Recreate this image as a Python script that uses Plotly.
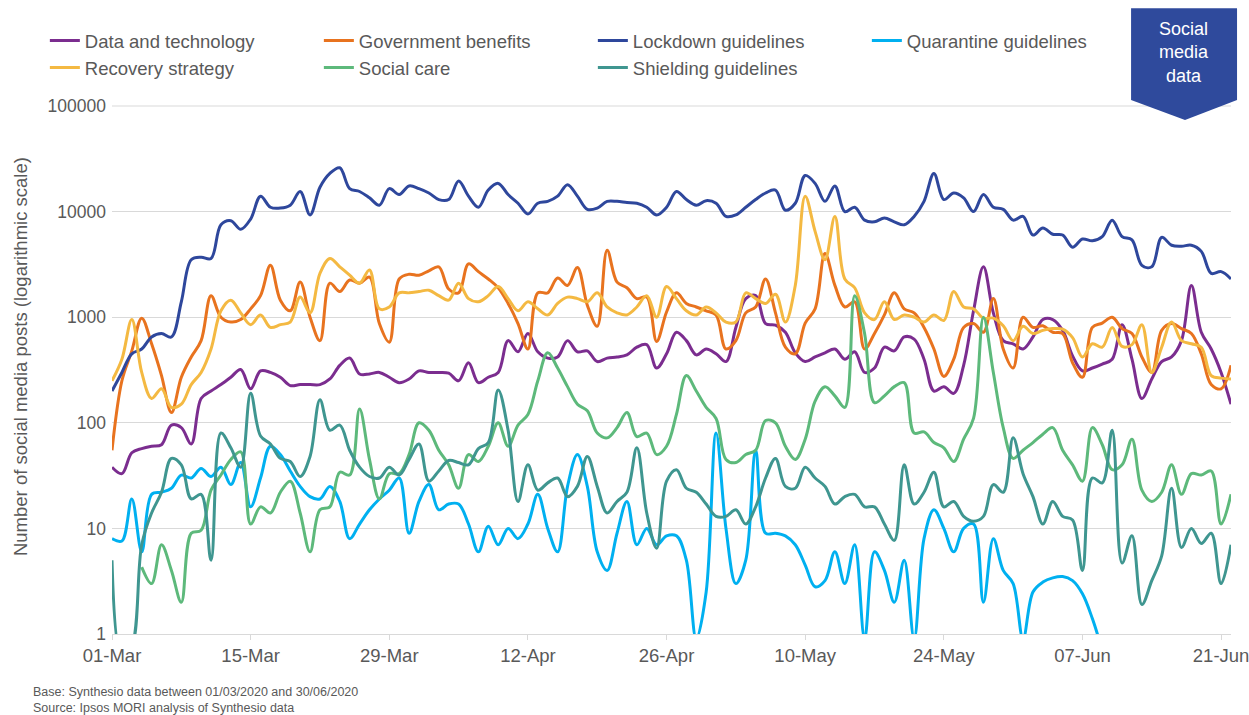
import plotly.graph_objects as go
import pandas as pd

dates = pd.date_range("2020-03-01", "2020-06-22", freq="D")

data_tech = [38, 33, 52, 57, 60, 62, 95, 90, 63, 170, 200, 230, 270, 320, 210, 310, 300, 270, 225, 230,
             230, 230, 260, 350, 410, 290, 290, 300, 270, 240, 260, 310, 300, 300, 295, 250, 370, 240, 270, 300,
             600, 470, 700, 470, 410, 420, 600, 470, 480, 380, 410, 420, 440, 520, 550, 330, 450, 720, 600, 440,
             500, 450, 380, 800, 1500, 1600, 870, 840, 720, 460, 380, 420, 460, 500, 400, 470, 300, 330, 520, 480,
             650, 620, 400, 200, 220, 190, 350, 1150, 3000, 1100, 600, 560, 500, 650, 950, 950, 750, 430, 310, 330,
             360, 400, 850, 400, 170, 260, 380, 420, 600, 2000, 720, 500, 300, 150]

gov_benefits = [55, 250, 480, 980, 560, 280, 125, 270, 420, 600, 1600, 1000, 900, 950, 1200, 1600, 3100, 1450, 1150, 2150,
                1000, 600, 2100, 1750, 2250, 2100, 2400, 870, 580, 2300, 2550, 2500, 2750, 3000, 1850, 1700, 3200, 2700, 2300, 1900,
                1350, 870, 500, 1700, 1700, 2350, 2000, 2950, 1300, 820, 4300, 2150, 1900, 1500, 1550, 590, 1120, 1700, 1350, 1250,
                1150, 1050, 500, 600, 1100, 1250, 2300, 1100, 520, 450, 880, 1200, 4000, 2000, 1250, 1400, 500, 700, 1050, 1700,
                1200, 1100, 800, 500, 275, 400, 800, 870, 720, 1500, 500, 330, 1000, 800, 830, 720, 700, 370, 270, 800,
                880, 1000, 780, 700, 420, 300, 750, 870, 780, 700, 450, 230, 210, 350]

lockdown = [200, 300, 450, 500, 650, 700, 650, 1400, 3500, 3700, 3600, 7500, 8200, 6800, 8500, 14000, 11000, 10800, 11500, 15500,
            9300, 17000, 23000, 26000, 16500, 15500, 13500, 11500, 16500, 14500, 17500, 16500, 15000, 13000, 13000, 19500, 14000, 11000, 16000, 18500,
            14500, 12000, 9500, 12000, 12500, 14000, 18000, 14000, 10500, 10800, 12500, 12500, 12200, 12000, 11000, 9300, 11000, 15500, 13000, 11500,
            12700, 12000, 9000, 9300, 11000, 13000, 15000, 16000, 10300, 12000, 22000, 18500, 12500, 17500, 10000, 11000, 8300, 8000, 8700, 8000,
            7500, 9000, 12500, 23000, 13000, 15000, 13500, 10000, 14500, 11000, 10500, 8300, 9000, 6000, 7000, 6100, 6000, 4600, 5500, 5300,
            5800, 8300, 5800, 5400, 3100, 3000, 5700, 4800, 4700, 4800, 4200, 2600, 2700, 2300]

quarantine = [8, 7.6, 19, 6, 21, 22, 24, 32, 30, 37, 31, 38, 26, 42, 16, 30, 60, 50, 35, 25,
              20, 19, 25, 18, 8, 11, 15, 19, 23, 30, 9, 18, 26, 15, 17, 17, 11, 6, 10.5, 7,
              10, 8, 11, 21, 10, 6, 25, 50, 25, 6, 4, 9, 18, 7, 10, 7, 8.5, 8.5, 5, 0.9,
              2.5, 80, 10, 3, 5, 55, 9, 9, 8.5, 7, 4.5, 2.8, 3.2, 6, 3, 7, 0.9, 6, 4, 2,
              5, 0.9, 8, 15, 10, 6, 10, 11, 2, 8, 4, 3, 0.9, 2.5, 3.1, 3.4, 3.5, 3.2, 2.4, 1.4,
              0.7, None, None, None, None, None, None, None, None, None, None, None, None, None]

recovery = [250, 400, 950, 300, 170, 210, 140, 150, 230, 300, 500, 1150, 1450, 1100, 850, 1050, 800, 850, 900, 1550,
            1100, 2600, 3600, 3000, 2500, 2100, 2800, 1200, 1250, 1700, 1700, 1750, 1800, 1600, 1450, 2100, 1500, 1400, 1600, 1950,
            1500, 1150, 1400, 1200, 1050, 1350, 1550, 1500, 1400, 1700, 1250, 1100, 1050, 1250, 1600, 1000, 1950, 1500, 1150, 1050,
            1250, 1100, 900, 900, 1700, 1500, 1350, 1650, 900, 2000, 14000, 6500, 3500, 9000, 2300, 1900, 1100, 950, 1400, 950,
            1050, 1000, 900, 1050, 930, 1750, 1250, 1200, 980, 980, 830, 600, 820, 700, 750, 780, 770, 640, 420, 560,
            520, 800, 530, 550, 850, 300, 520, 900, 600, 560, 520, 280, 265, 260]

social_care = [None, None, None, 4.3, 3, 7, 4, 2, 9, 9.6, 23, 32, 45, 53, 11, 16, 14, 22, 28, 14,
               6, 15, 16, 34, 32, 135, 45, 19, 33, 33, 50, 100, 85, 55, 40, 24, 50, 43, 60, 100,
               60, 95, 120, 250, 460, 330, 220, 150, 130, 80, 72, 90, 125, 74, 80, 50, 60, 120, 280, 200,
               140, 110, 45, 42, 50, 55, 105, 100, 60, 45, 70, 160, 220, 180, 140, 1600, 700, 155, 180, 220,
               240, 80, 82, 65, 58, 43, 70, 110, 1000, 300, 90, 46, 55, 65, 78, 90, 55, 40, 28, 90,
               62, 36, 40, 70, 23, 18, 22, 40, 21, 33, 32, 35, 11, 21]

shielding = [5, 0.6, 0.75, 7, 14, 22, 46, 40, 19, 21, 5, 80, 58, 38, 190, 75, 63, 46, 43, 31,
             48, 165, 85, 95, 55, 38, 31, 30, 38, 32, 45, 63, 28, 35, 44, 42, 40, 57, 65, 205,
             85, 18, 40, 23, 27, 30, 20, 25, 48, 25, 14, 18, 22, 58, 14, 6.5, 28, 36, 24, 22,
             17, 13, 13, 15, 11, 16, 30, 46, 25, 24, 38, 30, 25, 17, 20, 21, 16, 16, 11, 7.7,
             40, 17, 22, 34, 16, 18, 13, 11.7, 13, 26, 22, 72, 33, 20, 11, 18, 13, 12, 4, 30,
             27, 85, 4.7, 8.5, 1.9, 3.2, 5.5, 24, 6.6, 10, 7.2, 9, 3, 7]

series = [
    ("Data and technology", data_tech, "#7B2D8F", "legend"),
    ("Government benefits", gov_benefits, "#E8731F", "legend"),
    ("Lockdown guidelines", lockdown, "#2E479C", "legend"),
    ("Quarantine guidelines", quarantine, "#00B0F0", "legend"),
    ("Recovery strategy", recovery, "#F4B942", "legend2"),
    ("Social care", social_care, "#5DB97B", "legend2"),
    ("Shielding guidelines", shielding, "#3F9690", "legend2"),
]

y_tickvals = [1, 10, 100, 1000, 10000, 100000]
y_ticktext = ["1", "10", "100", "1000", "10000", "100000"]

fig = go.Figure()
for name, vals, color, leg in series:
    fig.add_trace(go.Scatter(
        x=dates, y=vals, mode="lines", name=name, legend=leg,
        line=dict(color=color, width=3, shape="spline", smoothing=1),
        connectgaps=False,
    ))

FONT = "Liberation Sans, Arial, sans-serif"
GREY = "#595959"
GRID = "#D9D9D9"

legend_common = dict(
    orientation="h", xanchor="left", x=-0.06, yanchor="middle",
    entrywidth=229, entrywidthmode="pixels", itemwidth=30,
    font=dict(family=FONT, size=18.5, color=GREY), bgcolor="rgba(0,0,0,0)",
)

fig.update_layout(
    width=1249, height=715,
    margin=dict(l=112, r=18, t=106, b=81, autoexpand=False),
    paper_bgcolor="white", plot_bgcolor="white",
    font=dict(family=FONT, size=18.5, color=GREY),
    showlegend=True,
    legend=dict(**legend_common, y=1.123),
    legend2=dict(**legend_common, y=1.072),
    xaxis=dict(
        type="date", range=["2020-03-01", "2020-06-22"],
        tick0="2020-03-01", dtick=14 * 86400000, tickformat="%d-%b",
        ticks="outside", ticklen=5, tickcolor=GRID,
        showline=True, linecolor=GRID, linewidth=1,
        showgrid=False, zeroline=False, automargin=False,
        ticklabeloverflow="allow",
        tickfont=dict(family=FONT, size=18.5, color=GREY),
    ),
    yaxis=dict(
        type="log", range=[0, 5],
        tickvals=y_tickvals, ticktext=y_ticktext,
        showgrid=True, gridcolor=GRID, gridwidth=1,
        zeroline=False, showline=False, ticks="", automargin=False,
        ticklabelstandoff=5,
        tickfont=dict(family=FONT, size=17.5, color=GREY),
    ),
)

# top gridline (at 100000, the upper edge of the plot area)
fig.add_shape(
    type="line", xref="paper", yref="paper", x0=0, x1=1, y0=1, y1=1,
    line=dict(color=GRID, width=1), layer="below",
)

# y-axis title
fig.add_annotation(
    text="Number of social media posts (logarithmic scale)",
    xref="paper", yref="paper", x=-0.0822, y=0.5246,
    textangle=-90, showarrow=False, xanchor="center", yanchor="middle",
    font=dict(family=FONT, size=18.5, color=GREY),
)

# footer
fig.add_annotation(
    text="Base: Synthesio data between 01/03/2020 and 30/06/2020",
    xref="paper", yref="paper", x=-0.0725, y=-0.1098, xanchor="left", yanchor="middle",
    showarrow=False, font=dict(family=FONT, size=12.5, color=GREY),
)
fig.add_annotation(
    text="Source: Ipsos MORI analysis of Synthesio data",
    xref="paper", yref="paper", x=-0.0725, y=-0.140, xanchor="left", yanchor="middle",
    showarrow=False, font=dict(family=FONT, size=12.5, color=GREY),
)

# badge
fig.add_shape(
    type="path", xref="paper", yref="paper",
    path="M 0.9107,1.185 L 1.0054,1.185 L 1.0054,1.0114 L 0.9589,0.9735 L 0.9107,1.0114 Z",
    fillcolor="#2F4A9C", line=dict(width=0), layer="above",
)
fig.add_annotation(
    text="Social<br>media<br>data",
    xref="paper", yref="paper", x=0.958, y=1.1004, xanchor="center", yanchor="middle",
    showarrow=False, font=dict(family=FONT, size=18, color="white"),
)

fig.write_html("out.html")
